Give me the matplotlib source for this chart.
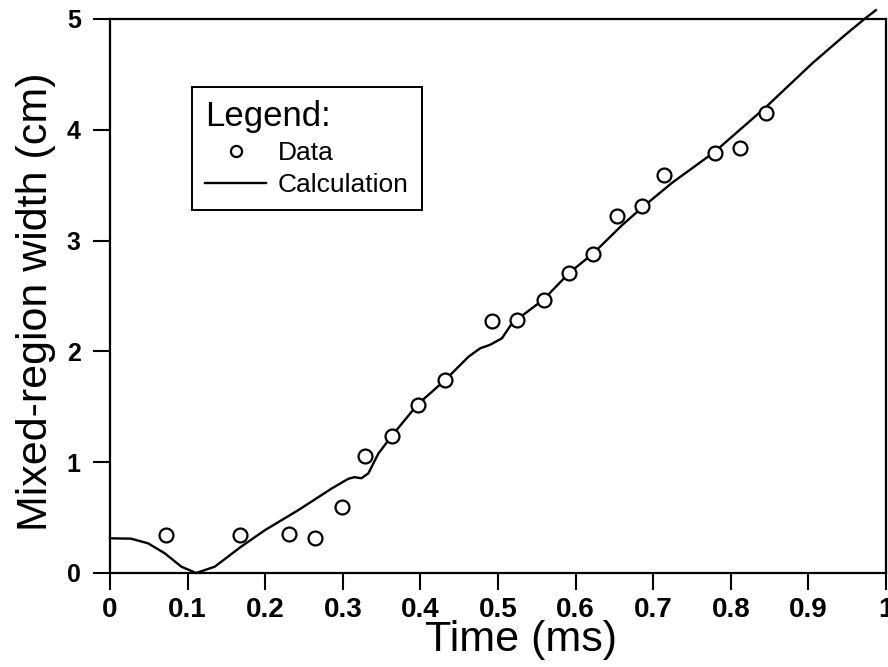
import matplotlib
matplotlib.use("Agg")
import matplotlib.pyplot as plt

plt.rcParams['font.family'] = ['Liberation Sans', 'DejaVu Sans']

# Measured data points
data_t = [0.072, 0.168, 0.231, 0.264, 0.299, 0.329, 0.363, 0.397, 0.432, 0.492,
          0.525, 0.559, 0.592, 0.622, 0.653, 0.686, 0.714, 0.779, 0.812, 0.846]
data_w = [0.34, 0.34, 0.35, 0.32, 0.60, 1.06, 1.24, 1.52, 1.74, 2.27,
          2.28, 2.46, 2.71, 2.88, 3.22, 3.31, 3.59, 3.79, 3.84, 4.15]

# Calculation curve
calc_t = [0.0, 0.027, 0.049, 0.0705, 0.092, 0.111, 0.135, 0.169, 0.200, 0.243,
          0.286, 0.307, 0.315, 0.324, 0.333, 0.346, 0.363, 0.3965, 0.432, 0.462,
          0.477, 0.490, 0.505, 0.518, 0.525, 0.559, 0.592, 0.622, 0.660, 0.686,
          0.724, 0.779, 0.846, 0.905, 0.948, 0.974, 0.987]
calc_w = [0.313, 0.310, 0.268, 0.178, 0.057, 0.0, 0.057, 0.238, 0.388, 0.569,
          0.764, 0.850, 0.865, 0.855, 0.900, 1.080, 1.236, 1.522, 1.742, 1.952,
          2.028, 2.060, 2.118, 2.253, 2.290, 2.470, 2.710, 2.880, 3.140, 3.300,
          3.520, 3.800, 4.210, 4.600, 4.860, 5.010, 5.080]

x_ticks = [0, 0.1, 0.2, 0.3, 0.4, 0.5, 0.6, 0.7, 0.8, 0.9, 1.0]
x_tick_labels = ["0", "0.1", "0.2", "0.3", "0.4", "0.5", "0.6", "0.7", "0.8", "0.9", "1"]
y_ticks = [0, 1, 2, 3, 4, 5]
y_tick_labels = ["0", "1", "2", "3", "4", "5"]

W, H = 888, 667
fig = plt.figure(figsize=(W / 100, H / 100), dpi=100)
ax = fig.add_axes([110 / W, (H - 573) / H, 776 / W, 554 / H])

ax.plot(data_t, data_w, linestyle='none', marker='o', markersize=10,
        markerfacecolor='white', markeredgecolor='black', markeredgewidth=1.6,
        label='Data', zorder=3)
ax.plot(calc_t, calc_w, color='black', linewidth=1.7, label='Calculation',
        clip_on=False, zorder=2)

ax.set_xlim(0, 1)
ax.set_ylim(0, 5)
ax.set_xticks(x_ticks)
ax.set_xticklabels(x_tick_labels, fontsize=20, fontweight='bold')
ax.set_yticks(y_ticks)
ax.set_yticklabels(y_tick_labels, fontsize=18, fontweight='bold')
ax.tick_params(axis='x', direction='out', length=12, width=1.5, pad=5)
ax.tick_params(axis='y', direction='out', length=12, width=1.5, pad=9)
for s in ax.spines.values():
    s.set_linewidth(1.6)

ax.set_xlabel("Time (ms)", fontsize=31)
ax.xaxis.set_label_coords(0.53, -0.084)
ax.xaxis.label.set_va('top')
ax.set_ylabel("Mixed-region width (cm)", fontsize=31)
ax.yaxis.set_label_coords(-0.07, 0.49)

leg = ax.legend(title="Legend:", loc='upper left',
                bbox_to_anchor=(192 / W, (H - 87) / H), bbox_transform=fig.transFigure,
                fontsize=19, title_fontsize=25, alignment='left',
                frameon=True, fancybox=False, edgecolor='black', framealpha=1,
                borderpad=0.5, handlelength=2.3, handletextpad=0.45,
                labelspacing=0.3, borderaxespad=0, markerscale=0.8)
leg.get_frame().set_linewidth(1.4)

fig.savefig("out.png", dpi=100)
